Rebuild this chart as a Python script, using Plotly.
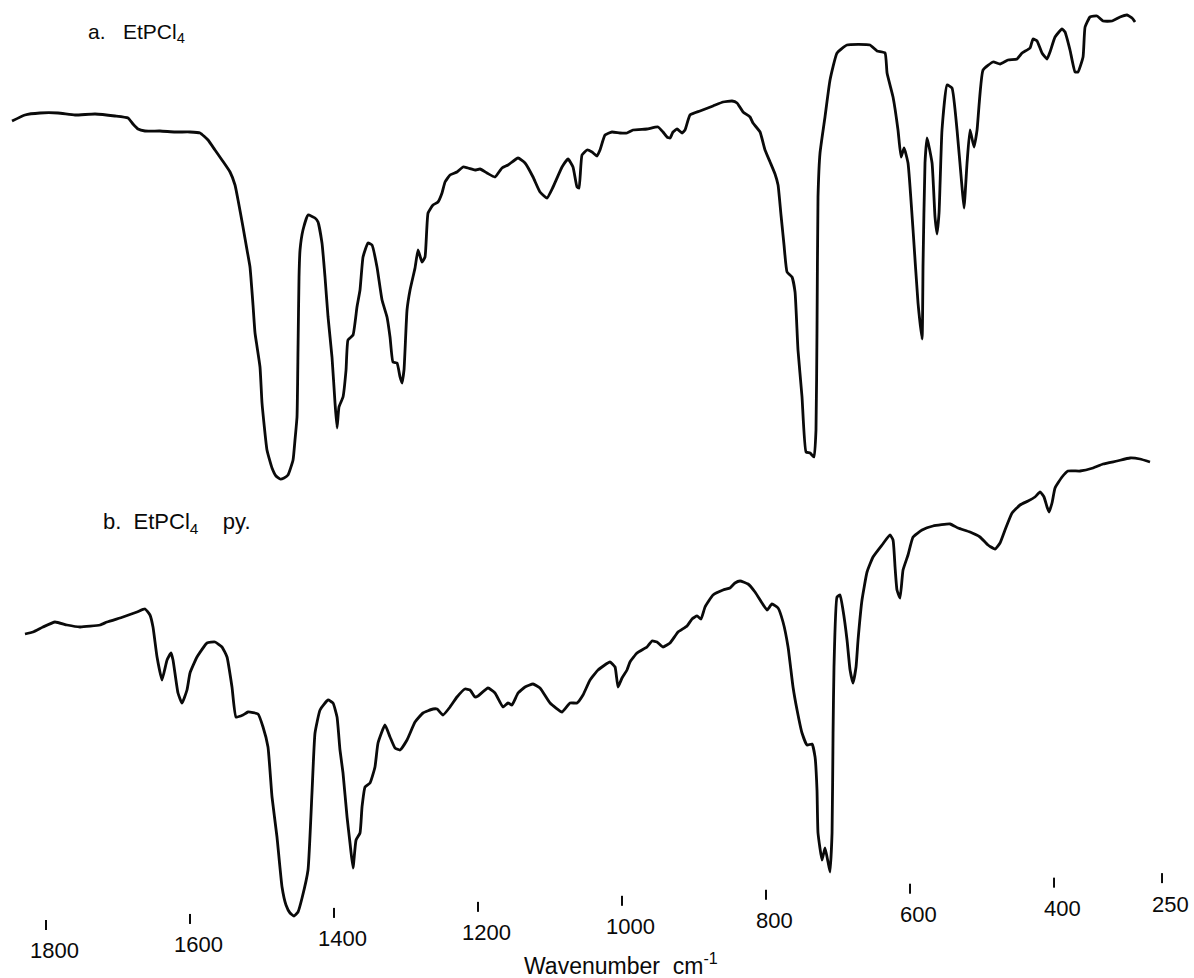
import plotly.graph_objects as go

# Infrared spectra, 1850-250 cm-1 (transmittance, arbitrary units)
WN_A = [1847.2, 1829.2, 1808.3, 1783.3, 1759.7, 1731.9, 1704.2, 1686.1, 1679.2, 1672.2,
        1662.5, 1641.7, 1620.8, 1600.0, 1586.1, 1575.0, 1565.3, 1555.6, 1544.4, 1537.5,
        1533.3, 1526.4, 1520.8, 1516.7, 1512.5, 1509.7, 1502.8, 1500.0, 1493.1, 1486.1,
        1480.6, 1475.0, 1469.4, 1463.9, 1456.9, 1454.2, 1451.4, 1450.0, 1448.6, 1447.2,
        1443.1, 1436.1, 1426.4, 1422.2, 1416.7, 1412.5, 1408.3, 1402.8, 1398.6, 1395.8,
        1393.1, 1387.5, 1383.3, 1380.6, 1373.6, 1368.1, 1363.9, 1359.7, 1352.8, 1347.2,
        1340.3, 1333.3, 1326.4, 1322.2, 1318.1, 1312.5, 1308.3, 1305.6, 1302.8, 1298.6,
        1294.4, 1287.5, 1283.3, 1277.8, 1273.6, 1269.4, 1262.5, 1255.6, 1250.0, 1245.8,
        1238.9, 1229.2, 1220.8, 1213.9, 1204.2, 1197.2, 1187.5, 1176.4, 1166.7, 1158.3,
        1144.4, 1134.7, 1123.6, 1113.9, 1104.2, 1095.8, 1083.3, 1075.0, 1068.1, 1062.5,
        1059.7, 1055.6, 1048.6, 1041.7, 1034.7, 1030.6, 1023.6, 1013.9, 1002.8, 993.1,
        984.7, 965.3, 950.0, 943.1, 937.5, 933.3, 929.2, 923.6, 916.7, 912.5,
        905.6, 891.7, 873.6, 859.7, 847.2, 840.3, 831.9, 822.2, 818.1, 808.3,
        801.4, 794.4, 787.5, 783.3, 779.2, 775.0, 770.8, 763.9, 759.7, 755.6,
        750.0, 744.4, 738.9, 733.3, 730.6, 729.2, 727.8, 725.0, 718.1, 711.1,
        701.4, 687.5, 655.6, 645.8, 634.7, 631.9, 623.6, 616.7, 612.5, 608.3,
        602.8, 595.8, 588.9, 583.3, 581.9, 579.2, 576.4, 569.4, 565.3, 562.5,
        559.7, 555.6, 548.6, 541.7, 534.7, 527.8, 525.0, 520.8, 516.7, 511.1,
        506.9, 498.6, 484.7, 475.0, 463.9, 451.4, 444.4, 433.3, 429.2, 423.6,
        416.7, 409.7, 405.6, 398.6, 388.9, 384.7, 377.8, 370.8, 366.7, 359.7,
        356.9, 350.0, 340.3, 331.9, 319.4, 308.3, 298.6, 291.7, 287.5]
T_A = [75.8, 77.0, 77.4, 77.4, 77.0, 77.2, 76.8, 76.4, 75.2, 74.2,
       73.8, 73.8, 73.6, 73.6, 73.4, 72.0, 70.0, 68.0, 65.6, 63.0,
       60.0, 54.6, 50.0, 46.6, 39.0, 33.4, 26.6, 19.4, 10.0, 6.4,
       4.8, 4.2, 4.4, 5.0, 8.0, 12.0, 16.6, 30.0, 44.6, 50.0,
       54.0, 57.0, 56.4, 55.6, 51.4, 44.6, 36.6, 28.6, 19.4, 14.4,
       18.6, 20.6, 26.0, 32.0, 33.0, 38.6, 42.0, 48.6, 51.4, 51.0,
       46.6, 40.0, 36.6, 32.6, 27.6, 27.4, 24.6, 23.4, 26.0, 38.0,
       42.0, 46.4, 50.0, 47.6, 48.6, 57.4, 59.0, 59.6, 61.4, 63.6,
       65.0, 65.6, 66.6, 66.4, 66.0, 66.2, 65.4, 64.6, 66.4, 67.0,
       68.4, 67.4, 64.6, 61.6, 60.4, 62.6, 66.6, 68.2, 66.6, 62.6,
       62.4, 69.0, 70.0, 69.6, 68.8, 70.0, 73.0, 73.6, 73.4, 73.4,
       74.0, 74.2, 74.6, 73.6, 72.6, 72.4, 73.6, 74.2, 73.4, 74.0,
       77.0, 77.8, 78.8, 79.6, 79.8, 79.4, 77.6, 76.6, 75.4, 73.6,
       70.0, 67.6, 65.2, 63.0, 57.0, 51.0, 45.6, 44.6, 41.6, 30.0,
       20.6, 9.6, 9.4, 8.6, 14.0, 34.0, 60.6, 69.4, 76.6, 84.0,
       89.4, 91.0, 91.0, 89.8, 89.4, 85.4, 80.6, 74.0, 68.6, 70.4,
       67.4, 54.0, 39.4, 32.2, 47.4, 67.4, 72.4, 67.4, 56.6, 53.2,
       57.4, 74.0, 83.0, 82.4, 74.0, 62.6, 58.4, 67.4, 74.0, 70.6,
       74.0, 86.0, 87.6, 87.2, 88.0, 88.2, 89.4, 90.4, 92.2, 91.8,
       89.4, 88.2, 89.6, 92.6, 94.2, 93.6, 90.0, 85.6, 85.6, 88.6,
       94.6, 96.6, 96.8, 95.8, 95.8, 96.6, 97.0, 96.4, 95.6]

WN_B = [1829.2, 1818.1, 1804.2, 1787.5, 1770.8, 1752.8, 1725.0, 1715.3, 1693.1, 1673.6,
        1662.5, 1655.6, 1651.4, 1645.8, 1638.9, 1631.9, 1626.4, 1623.6, 1616.7, 1611.1,
        1604.2, 1600.0, 1590.3, 1576.4, 1565.3, 1555.6, 1548.6, 1541.7, 1536.1, 1526.4,
        1519.4, 1505.6, 1498.6, 1491.7, 1486.1, 1479.2, 1472.2, 1466.7, 1461.1, 1455.6,
        1450.0, 1444.4, 1436.1, 1430.6, 1426.4, 1419.4, 1408.3, 1401.4, 1395.8, 1391.7,
        1387.5, 1381.9, 1377.8, 1373.6, 1369.4, 1363.9, 1361.1, 1356.9, 1350.0, 1343.1,
        1338.9, 1329.2, 1322.2, 1315.3, 1308.3, 1298.6, 1287.5, 1276.4, 1262.5, 1256.9,
        1248.6, 1238.9, 1229.2, 1218.1, 1211.1, 1204.2, 1200.0, 1186.1, 1176.4, 1165.3,
        1158.3, 1152.8, 1144.4, 1134.7, 1123.6, 1113.9, 1100.0, 1083.3, 1072.2, 1062.5,
        1054.2, 1044.4, 1033.3, 1016.7, 1009.7, 1005.6, 1000.0, 993.1, 988.9, 979.2,
        965.3, 958.3, 951.4, 943.1, 933.3, 922.2, 909.7, 902.8, 895.8, 890.3,
        884.7, 873.6, 859.7, 850.0, 843.1, 836.1, 825.0, 815.3, 805.6, 798.6,
        791.7, 783.3, 776.4, 769.4, 762.5, 756.9, 750.0, 743.1, 736.1, 731.9,
        729.2, 727.8, 722.2, 718.1, 713.9, 711.1, 708.3, 706.9, 705.6, 701.4,
        697.2, 693.1, 687.5, 683.3, 679.2, 675.0, 672.2, 666.7, 659.7, 651.4,
        638.9, 627.8, 623.6, 620.8, 618.1, 613.9, 609.7, 602.8, 595.8, 583.3,
        568.1, 544.4, 533.3, 516.7, 502.8, 491.7, 481.9, 475.0, 468.1, 458.3,
        447.2, 436.1, 426.4, 419.4, 413.9, 409.7, 406.9, 402.8, 398.6, 388.9,
        380.6, 363.9, 345.8, 331.9, 312.5, 294.4, 280.6, 266.7]
T_B = [59.2, 59.6, 60.6, 61.6, 61.0, 60.6, 61.0, 61.6, 62.6, 63.6,
       64.2, 63.0, 60.6, 54.6, 50.0, 54.0, 55.4, 54.0, 47.4, 45.4,
       48.0, 51.4, 54.6, 57.4, 57.6, 56.6, 54.6, 48.6, 42.6, 43.0,
       43.6, 43.2, 40.6, 36.6, 26.6, 18.6, 8.6, 5.0, 3.4, 2.8,
       3.6, 6.4, 12.0, 27.4, 39.4, 44.0, 46.0, 45.4, 42.6, 36.0,
       31.4, 22.6, 17.4, 12.4, 18.0, 19.4, 24.6, 28.6, 29.4, 32.6,
       37.4, 41.0, 38.6, 36.4, 36.0, 38.0, 41.6, 43.4, 44.2, 44.2,
       43.0, 44.6, 46.6, 48.2, 48.0, 46.6, 46.8, 48.4, 47.4, 44.6,
       45.4, 45.0, 47.4, 48.6, 49.2, 48.4, 45.4, 43.6, 45.4, 45.4,
       47.0, 50.0, 52.0, 53.6, 52.6, 48.6, 50.4, 52.0, 53.6, 55.4,
       56.6, 57.8, 57.6, 56.6, 57.4, 59.6, 60.8, 62.2, 62.8, 62.2,
       64.6, 67.0, 68.0, 68.4, 69.4, 69.8, 69.2, 67.6, 65.4, 64.0,
       65.2, 64.4, 61.6, 56.6, 48.6, 44.0, 39.4, 37.0, 37.2, 34.6,
       28.0, 19.4, 14.0, 16.4, 13.6, 11.6, 19.4, 39.4, 52.6, 66.6,
       67.0, 64.0, 58.0, 52.0, 49.4, 52.6, 58.0, 66.0, 71.6, 74.6,
       77.0, 79.0, 78.0, 72.6, 68.0, 66.4, 72.0, 75.0, 78.6, 80.0,
       80.8, 81.2, 80.4, 79.6, 78.6, 77.0, 76.2, 77.4, 80.0, 83.4,
       85.0, 85.8, 86.6, 87.6, 86.6, 84.6, 83.6, 85.4, 88.4, 90.6,
       91.8, 91.8, 92.4, 93.2, 93.8, 94.4, 94.2, 93.6]

TICK_WN = [1800, 1600, 1400, 1200, 1000, 800, 600, 400, 250]
TICK_TEXT = ["1800", "1600", "1400", "1200", "1000", "800", "600", "400", "250"]

LABEL_A = "a.&nbsp;&nbsp;&nbsp;EtPCl<sub>4</sub>"
LABEL_B = "b.&nbsp;&nbsp;EtPCl<sub>4</sub>&nbsp;&nbsp;&nbsp;&nbsp;py."
AXIS_TITLE = "Wavenumber&nbsp;&nbsp;cm<sup>-1</sup>"

W, H = 1194, 978
X_RANGE = [1863.9, 205.6]
INK = "#0a0a0a"
FONT = "Liberation Sans"
CLEAR = "rgba(0,0,0,0)"


def px_of(wn):
    # horizontal pixel of a wavenumber on the chart
    return (X_RANGE[0] - wn) / (X_RANGE[0] - X_RANGE[1]) * W


def scale_y(wn, base):
    # the printed scale runs slightly uphill to the right
    return base - 0.042 * (px_of(wn) - 46)


fig = go.Figure()
for wn, t, ya in ((WN_A, T_A, "y"), (WN_B, T_B, "y2")):
    fig.add_trace(go.Scatter(x=wn, y=t, mode="lines", xaxis="x", yaxis=ya,
                             line=dict(color=INK, width=2.8, shape="spline", smoothing=0.4),
                             hoverinfo="skip", cliponaxis=False))

shapes = []
annotations = []
for wn, txt in zip(TICK_WN, TICK_TEXT):
    yc = scale_y(wn, 925)
    shapes.append(dict(type="line", xref="x", yref="paper", x0=wn, x1=wn,
                       y0=1 - (yc - 5) / H, y1=1 - (yc + 5) / H,
                       line=dict(color=INK, width=2)))
    annotations.append(dict(x=wn, y=1 - (yc + 26) / H, xref="x", yref="paper",
                            text=txt, showarrow=False, xshift=8,
                            xanchor="center", yanchor="middle",
                            font=dict(family=FONT, size=22, color=INK)))

annotations.append(dict(x=86 / W, y=1 - 33 / H, xref="paper", yref="paper",
                        text=LABEL_A, showarrow=False, xanchor="left", yanchor="middle",
                        font=dict(family=FONT, size=21, color=INK)))
annotations.append(dict(x=101 / W, y=1 - 523 / H, xref="paper", yref="paper",
                        text=LABEL_B, showarrow=False, xanchor="left", yanchor="middle",
                        font=dict(family=FONT, size=22, color=INK)))
annotations.append(dict(x=621 / W, y=1 - 964 / H, xref="paper", yref="paper",
                        text=AXIS_TITLE, showarrow=False, xanchor="center", yanchor="middle",
                        font=dict(family=FONT, size=23, color=INK)))

fig.update_layout(
    width=W, height=H,
    margin=dict(l=0, r=0, t=0, b=0),
    paper_bgcolor="white", plot_bgcolor=CLEAR,
    showlegend=False,
    xaxis=dict(range=X_RANGE, domain=[0, 1], visible=False, fixedrange=True),
    yaxis=dict(range=[0, 100], domain=[1 - 500 / H, 1], visible=False, anchor="x"),
    yaxis2=dict(range=[0, 100], domain=[1 - 930 / H, 1 - 430 / H], visible=False, anchor="x"),
    shapes=shapes,
    annotations=annotations,
)

fig.write_html("out.html")
